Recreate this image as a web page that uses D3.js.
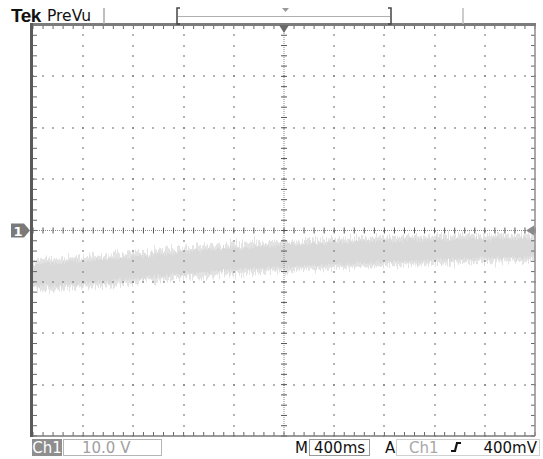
<!DOCTYPE html>
<html>
<head>
<meta charset="utf-8">
<script src="https://cdn.jsdelivr.net/npm/d3@7"></script>
<style>
  body { margin: 0; background: #fff; }
  svg { display: block; font-family: "DejaVu Sans", sans-serif; }
</style>
</head>
<body>
<svg id="scope" width="543" height="459"></svg>
<script>
// graticule: 10 x 400ms divisions, 8 x 10.0 V divisions
var timeDivs = [-2.0, -1.6, -1.2, -0.8, -0.4, 0.0, 0.4, 0.8, 1.2, 1.6, 2.0];
var voltDivs = [-40, -30, -20, -10, 0, 10, 20, 30, 40];

// trace envelope (seconds, volts)
var traceTime = [-2.0, -1.9, -1.8, -1.7, -1.6, -1.5, -1.4, -1.3, -1.2, -1.1, -1.0,
                 -0.9, -0.8, -0.7, -0.6, -0.5, -0.4, -0.3, -0.2, -0.1, 0.0,
                 0.1, 0.2, 0.3, 0.4, 0.5, 0.6, 0.7, 0.8, 0.9, 1.0,
                 1.1, 1.2, 1.3, 1.4, 1.5, 1.6, 1.7, 1.8, 1.9, 2.0];
var traceUpper = [-5.9, -5.4, -5.6, -5.0, -5.3, -4.9, -4.7, -4.6, -4.1, -4.2, -3.7,
                  -3.8, -3.2, -3.3, -2.8, -2.9, -2.4, -2.6, -2.1, -2.3, -1.8,
                  -2.0, -1.6, -1.8, -1.4, -1.6, -1.2, -1.4, -1.0, -1.3, -0.9,
                  -1.2, -0.8, -1.0, -0.9, -0.7, -1.0, -0.6, -0.9, -0.7, -0.8];
var traceLower = [-11.8, -11.5, -11.6, -11.2, -11.3, -10.8, -10.9, -10.3, -10.4, -9.9, -9.8,
                  -9.4, -9.3, -8.9, -9.0, -8.5, -8.6, -8.2, -8.3, -7.9, -8.1,
                  -7.8, -7.6, -7.7, -7.3, -7.4, -7.1, -7.2, -6.8, -7.0, -6.7,
                  -6.8, -6.4, -6.6, -6.3, -6.4, -6.1, -6.3, -6.0, -6.2, -5.9];

var svg = d3.select('#scope'),
    pL = 33, pR = 535, pT = 25, pB = 436;

var x = d3.scaleLinear().domain([-2, 2]).range([pL, pR]);
var y = d3.scaleLinear().domain([-40, 40]).range([pB, pT]);

var minorT = d3.range(-2, 2.0001, 0.08),
    minorV = d3.range(-40, 40.0001, 2);

var defs = svg.append('defs');
defs.append('clipPath').attr('id', 'plotclip')
    .append('rect')
    .attr('x', pL).attr('y', pT)
    .attr('width', pR - pL).attr('height', pB - pT);

function noiseFilter(id, seed, scale) {
    var f = defs.append('filter').attr('id', id)
        .attr('x', '-5%').attr('y', '-50%').attr('width', '110%').attr('height', '200%');
    f.append('feTurbulence')
        .attr('type', 'fractalNoise')
        .attr('baseFrequency', '0.85 0.03')
        .attr('numOctaves', 2)
        .attr('seed', seed)
        .attr('result', 'turb');
    f.append('feDisplacementMap')
        .attr('in', 'SourceGraphic').attr('in2', 'turb')
        .attr('scale', scale)
        .attr('xChannelSelector', 'B')
        .attr('yChannelSelector', 'G');
}
noiseFilter('noiseOuter', 4, 18);
noiseFilter('noiseInner', 9, 10);

// ---- trace ----
var trace = traceTime.map(function (t, i) {
    return {t: t, hi: traceUpper[i], lo: traceLower[i]};
});
var band = function (pad) {
    return d3.area()
        .x(function (d) { return x(d.t); })
        .y0(function (d) { return y(d.lo + pad); })
        .y1(function (d) { return y(d.hi - pad); });
};
var traceG = svg.append('g').attr('clip-path', 'url(#plotclip)');
traceG.append('path')
    .datum(trace)
    .attr('d', band(0))
    .attr('fill', '#e3e3e3')
    .attr('filter', 'url(#noiseOuter)');
traceG.append('path')
    .datum(trace)
    .attr('d', band(0.8))
    .attr('fill', '#d9d9d9')
    .attr('filter', 'url(#noiseInner)');

// ---- graticule ----
var grid = svg.append('g').attr('class', 'graticule');
var dots = [];
timeDivs.slice(1, -1).forEach(function (t) {
    if (t === 0) { return; }
    minorV.forEach(function (v) { dots.push([x(t), y(v)]); });
});
voltDivs.slice(1, -1).forEach(function (v) {
    if (v === 0) { return; }
    minorT.forEach(function (t) { dots.push([x(t), y(v)]); });
});
grid.selectAll('rect.dot').data(dots).enter().append('rect')
    .attr('class', 'dot')
    .attr('x', function (d) { return Math.round(d[0]) - 0.75; })
    .attr('y', function (d) { return Math.round(d[1]) - 0.75; })
    .attr('width', 1.5).attr('height', 1.5)
    .attr('fill', '#7a7a7a');

// center cross
grid.append('line')
    .attr('x1', pL).attr('x2', pR)
    .attr('y1', y(0)).attr('y2', y(0))
    .attr('stroke', '#8a8a8a').attr('stroke-width', 1)
    .attr('stroke-dasharray', '1,1');
grid.append('line')
    .attr('x1', x(0)).attr('x2', x(0))
    .attr('y1', pT).attr('y2', pB)
    .attr('stroke', '#8a8a8a').attr('stroke-width', 1)
    .attr('stroke-dasharray', '1,1');
grid.selectAll('line.htick').data(minorT).enter().append('line')
    .attr('class', 'htick')
    .attr('x1', function (d) { return x(d); }).attr('x2', function (d) { return x(d); })
    .attr('y1', y(0) - 3).attr('y2', y(0) + 3)
    .attr('stroke', '#555').attr('stroke-width', 1);
grid.selectAll('line.vtick').data(minorV).enter().append('line')
    .attr('class', 'vtick')
    .attr('x1', x(0) - 3).attr('x2', x(0) + 3)
    .attr('y1', function (d) { return y(d); }).attr('y2', function (d) { return y(d); })
    .attr('stroke', '#555').attr('stroke-width', 1);

// edge ticks
[[pT, 4], [pB, -4]].forEach(function (e) {
    grid.selectAll(null).data(minorT).enter().append('line')
        .attr('x1', function (d) { return x(d); }).attr('x2', function (d) { return x(d); })
        .attr('y1', e[0]).attr('y2', e[0] + e[1])
        .attr('stroke', '#666').attr('stroke-width', 1);
});
[[pL, 4], [pR, -4]].forEach(function (e) {
    grid.selectAll(null).data(minorV).enter().append('line')
        .attr('x1', e[0]).attr('x2', e[0] + e[1])
        .attr('y1', function (d) { return y(d); }).attr('y2', function (d) { return y(d); })
        .attr('stroke', '#666').attr('stroke-width', 1);
});

// frame
grid.append('line').attr('x1', pR).attr('x2', pR).attr('y1', pT).attr('y2', pB)
    .attr('stroke', '#8c8c8c').attr('stroke-width', 1.5);
grid.append('line').attr('x1', pL).attr('x2', pR).attr('y1', pB).attr('y2', pB)
    .attr('stroke', '#7a7a7a').attr('stroke-width', 1.5);
grid.append('line').attr('x1', pL - 1.5).attr('x2', pR + 1).attr('y1', pT - 0.5).attr('y2', pT - 0.5)
    .attr('stroke', '#7c7c7c').attr('stroke-width', 3);
grid.append('line').attr('x1', pL - 1.5).attr('x2', pL - 1.5).attr('y1', pT - 2).attr('y2', pB + 1)
    .attr('stroke', '#5a5a5a').attr('stroke-width', 3);

// trigger position and level markers
svg.append('path')
    .attr('d', 'M' + (x(0) - 5) + ',' + pT + 'L' + (x(0) + 5) + ',' + pT + 'L' + x(0) + ',' + (pT + 8) + 'Z')
    .attr('fill', '#6a6a6a');
svg.append('path')
    .attr('d', 'M' + (pR - 1) + ',' + (y(0) - 5) + 'L' + (pR - 1) + ',' + (y(0) + 5) + 'L' + (pR - 9) + ',' + y(0) + 'Z')
    .attr('fill', '#8a8a8a');

// channel 1 ground marker
var ch = svg.append('g');
ch.append('path')
    .attr('d', 'M11,' + (y(0) - 7) + 'L24,' + (y(0) - 7) + 'L30,' + y(0) + 'L24,' + (y(0) + 7) + 'L11,' + (y(0) + 7) + 'Z')
    .attr('fill', '#7a7a7a');
ch.append('text').attr('x', 18).attr('y', y(0) + 5)
    .attr('text-anchor', 'middle')
    .attr('font-size', 13).attr('font-weight', 'bold')
    .attr('fill', '#fff').text('1');

// ---- header ----
var head = svg.append('g');
head.append('text').attr('x', 11).attr('y', 22)
    .attr('font-family', '"Liberation Sans Narrow", "Liberation Sans", sans-serif')
    .attr('font-size', 19).attr('font-weight', 'bold')
    .attr('letter-spacing', -0.5)
    .attr('fill', '#111').text('Tek');
head.append('text').attr('x', 47).attr('y', 21)
    .attr('font-size', 15.5).attr('fill', '#111').text('PreVu');
head.append('line').attr('x1', 104).attr('x2', 104).attr('y1', 8).attr('y2', 24)
    .attr('stroke', '#aaa').attr('stroke-width', 1.5);
head.append('line').attr('x1', 463).attr('x2', 463).attr('y1', 8).attr('y2', 24)
    .attr('stroke', '#bbb').attr('stroke-width', 1.5);
// record view bracket
head.append('path').attr('d', 'M180,8L177,8L177,24L180,24')
    .attr('fill', 'none').attr('stroke', '#444').attr('stroke-width', 1.5);
head.append('path').attr('d', 'M388,8L391,8L391,24L388,24')
    .attr('fill', 'none').attr('stroke', '#444').attr('stroke-width', 1.5);
head.append('line').attr('x1', 178).attr('x2', 390).attr('y1', 16.5).attr('y2', 16.5)
    .attr('stroke', '#b0b0b0').attr('stroke-width', 1);
head.append('path').attr('d', 'M282,8L289,8L285.5,12Z').attr('fill', '#999');

// ---- readouts ----
var foot = svg.append('g').attr('font-size', 15);
foot.append('rect').attr('x', 32).attr('y', 439).attr('width', 30).attr('height', 17)
    .attr('fill', '#8e8e8e');
foot.append('text').attr('x', 47).attr('y', 453).attr('text-anchor', 'middle')
    .attr('fill', '#fff').text('Ch1');
foot.append('rect').attr('x', 63.5).attr('y', 439.5).attr('width', 98).attr('height', 16)
    .attr('fill', 'none').attr('stroke', '#b5b5b5').attr('stroke-width', 1);
foot.append('text').attr('x', 82).attr('y', 453).attr('fill', '#a0a0a0').text('10.0 V');

foot.append('text').attr('x', 295).attr('y', 453).attr('fill', '#111').text('M');
foot.append('rect').attr('x', 309.5).attr('y', 439.5).attr('width', 60).attr('height', 16)
    .attr('fill', 'none').attr('stroke', '#999').attr('stroke-width', 1);
foot.append('text').attr('x', 314).attr('y', 453).attr('fill', '#111').text('400ms');
foot.append('text').attr('x', 385).attr('y', 453).attr('fill', '#111').text('A');
foot.append('rect').attr('x', 396.5).attr('y', 439.5).attr('width', 143).attr('height', 16)
    .attr('fill', 'none').attr('stroke', '#d0d0d0').attr('stroke-width', 1);
foot.append('text').attr('x', 409).attr('y', 453).attr('fill', '#a8a8a8').text('Ch1');
foot.append('path').attr('d', 'M451,451L455,451L457,443L461,443')
    .attr('fill', 'none').attr('stroke', '#111').attr('stroke-width', 2.2);
foot.append('text').attr('x', 537).attr('y', 453).attr('text-anchor', 'end')
    .attr('fill', '#111').text('400mV');
</script>
</body>
</html>
